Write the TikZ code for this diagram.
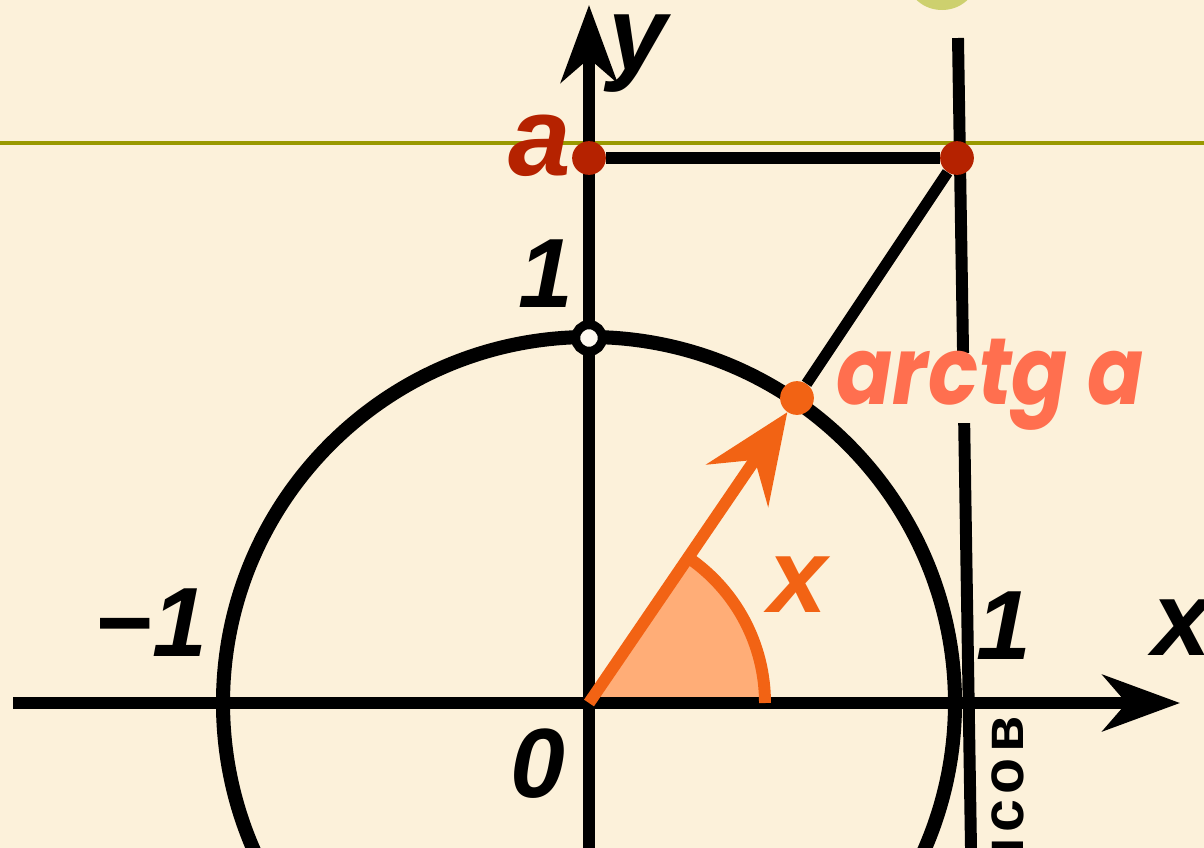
\documentclass[tikz,border=0pt]{standalone}
\usepackage{fontspec}
\setmainfont{Liberation Sans}
\newfontfamily\geofont[FakeStretch=0.88]{Poppins}
\usepackage{xcolor}
\definecolor{bgcream}{RGB}{252,241,218}
\definecolor{axisolive}{RGB}{153,153,0}
\definecolor{dotred}{RGB}{181,34,0}
\definecolor{vecorange}{RGB}{242,99,20}
\definecolor{labelcoral}{RGB}{255,111,79}
\definecolor{sectorfill}{RGB}{255,173,119}
\definecolor{blobgreen}{RGB}{205,208,110}
\definecolor{blobdark}{RGB}{150,152,40}
\usepackage{tikz}
\usetikzlibrary{arrows.meta}

\begin{document}
\begin{tikzpicture}[x=0.025cm, y=-0.025cm,
    axisline/.style={line width=8.5pt},
    dotnode/.style={circle, inner sep=0pt, minimum size=24pt},
    numlabel/.style={font=\fontsize{70}{70}\selectfont\bfseries\itshape, inner sep=0pt},
    varlabel/.style={font=\fontsize{75}{75}\selectfont\bfseries\itshape, inner sep=0pt}]

% Background
\useasboundingbox (0,0) rectangle (1204,848);
\fill[bgcream] (0,0) rectangle (1204,848);

% Green blob cut by the top edge
\fill[blobgreen] (942,-20) ellipse (34 and 30);
\fill[blobdark] (932,-14) ellipse (16 and 14);

% Level line y = a
\draw[axisolive, line width=3pt] (0,143) -- (1204,143);

% Key points
\coordinate (O) at (589,703);
\coordinate (xstart) at (13,703);
\coordinate (xend) at (1180,703);
\coordinate (ystart) at (589,848);
\coordinate (yend) at (589,5);
\coordinate (tantop) at (958,38);
\coordinate (tanbot) at (971,848);

% Angle sector
\fill[sectorfill] (O) -- ++(176,0) arc[start angle=0, end angle=-56, radius=176] -- cycle;

% === Axes ===
\draw[axisline, -{Stealth[length=55pt, width=40pt, inset=17pt]}] (xstart) -- (xend);
\draw[axisline, -{Stealth[length=55pt, width=40pt, inset=17pt]}] (ystart) -- (yend);

% Unit circle
\draw[line width=10pt] (O) circle[radius=366];

% Tangent line x = 1
\draw[axisline] (tantop) -- (tanbot);

% Angle arc
\draw[vecorange, line width=8.5pt] (O) ++(176,0) arc[start angle=0, end angle=-56, radius=176];

% === Points ===
\node[dotnode, fill=dotred] (A) at (589,158) {};
\node[dotnode, fill=dotred] (T) at (957,158) {};
\node[dotnode, fill=vecorange] (P) at (797,398) {};
\node[circle, draw=black, fill=bgcream!40!white, line width=6.5pt,
      inner sep=0pt, minimum size=19pt] (U) at (589,338) {};

% Connectors
\draw[axisline] (A) -- (T);
\draw[line width=8pt] (T) -- (P);
\draw[vecorange, line width=8.5pt, -{Stealth[length=63pt, width=53pt, inset=22pt]}] (O) -- (P);

% === Labels ===
\node[varlabel] (ylab) at (638,54) {y};
\node[varlabel] (xlab) at (1182,628) {x};
\node[varlabel, vecorange] (anglab) at (798,585) {x};
\node[font=\fontsize{80}{80}\selectfont\bfseries\itshape, dotred, inner sep=0pt] (alab) at (540,146) {a};
\node[numlabel] (oneup) at (546,274) {1};
\node[numlabel] (oneright) at (1004,626) {1};
\node[numlabel] (minusone) at (151,623) {−1};
\node[numlabel] (zero) at (538,764) {0};
\node[labelcoral, fill=bgcream, inner sep=0pt, text height=37pt, text depth=13pt,
      font=\geofont\fontsize{67}{67}\selectfont\bfseries\itshape] (arclab) at (990,388) {arctg a};

% Cut-off text at the bottom
\node[rotate=90, anchor=base east, inner sep=0pt,
      font=\fontsize{42}{42}\selectfont\bfseries\addfontfeature{LetterSpace=9}] (wmark) at (1023,716) {нсов};

\end{tikzpicture}
\end{document}
